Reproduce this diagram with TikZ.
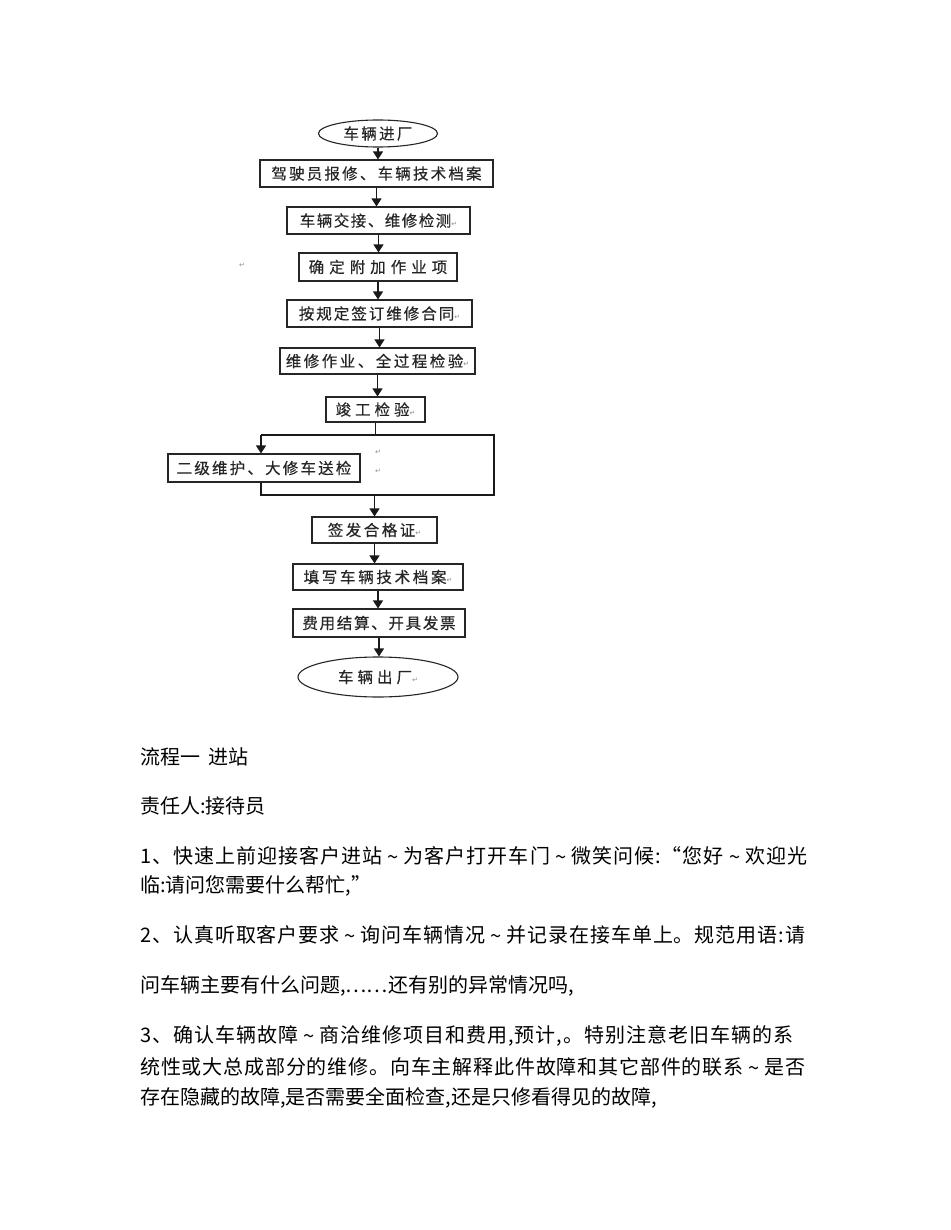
\documentclass[tikz,border=0pt]{standalone}
\usepackage{fontspec}
\setmainfont{Noto Sans CJK SC}
\newfontfamily\bxf[FakeBold=0.4]{Noto Sans CJK SC}
\newfontfamily\dv{DejaVu Sans}
\usetikzlibrary{arrows.meta,shapes.geometric}
\ExplSyntaxOn
\NewDocumentCommand\spc{mm}{\tl_map_inline:nn{#2}{##1\hspace{#1}}\unskip}
\NewDocumentCommand\jl{mm}{\makebox[#1][s]{\tl_map_inline:nn{#2}{##1\hfil}\unskip}}
\ExplSyntaxOff
\newcommand\pmk{{\dv\fontsize{7}{7}\selectfont\color{black!45}↵}}
\newcommand\tld{\hspace{4pt}\raisebox{-1pt}{\symbol{"7E}}\hspace{4pt}}
\begin{document}
\begin{tikzpicture}[x=1pt,y=-1pt,
  box/.style={draw=black!85, line width=1.1pt, fill=white, inner sep=0pt, font=\bxf\fontsize{15.5}{17}\selectfont, text=black!85},
  oval/.style={ellipse, draw=black!85, line width=1.1pt, fill=white, inner sep=0pt, font=\bxf\fontsize{15.5}{17}\selectfont, text=black!85},
  arr/.style={-{Triangle[length=8pt,width=10pt]}, line width=1.2pt, draw=black!90, fill=black!90},
  ln/.style={line width=1.2pt, draw=black!90, line join=miter},
  body/.style={anchor=base west, inner sep=0pt, font=\fontsize{20}{24}\selectfont},
  stray/.style={inner sep=0pt}]
\useasboundingbox (0,0) rectangle (950,1230);
\fill[white] (0,0) rectangle (950,1230);

% flowchart nodes
\node[oval, minimum width=119pt, minimum height=27pt] (e1) at (378,133.5) {\spc{2.3pt}{车辆进厂}};
\node[box, minimum width=233pt, minimum height=27pt] (b2) at (376.5,173.5) {\spc{2.2pt}{驾驶员报修、车辆技术档案}};
\node[box, minimum width=183pt, minimum height=27pt] (b3) at (378.5,220.5) {\spc{1.5pt}{车辆交接、维修检测}\pmk};
\node[box, minimum width=158pt, minimum height=28pt] (b4) at (378,267) {\spc{5pt}{确定附加作业项}};
\node[box, minimum width=185pt, minimum height=27pt] (b5) at (379.5,313.5) {\spc{2pt}{按规定签订维修合同}\pmk};
\node[box, minimum width=195pt, minimum height=26pt] (b6) at (377.5,361) {\spc{2.5pt}{维修作业、全过程检验}\pmk};
\node[box, minimum width=99pt, minimum height=25pt] (b7) at (375.5,409.5) {\spc{4pt}{竣工检验}\pmk};
\node[box, minimum width=192pt, minimum height=28pt] (bL) at (264,468) {\spc{2.2pt}{二级维护、大修车送检}};
\node[box, minimum width=125pt, minimum height=26pt] (b8) at (374.5,530) {\spc{2.5pt}{签发合格证}\pmk};
\node[box, minimum width=170pt, minimum height=26pt] (b9) at (378,577) {\spc{2.7pt}{填写车辆技术档案}\pmk};
\node[box, minimum width=172pt, minimum height=28pt] (b10) at (379,623) {\spc{1.7pt}{费用结算、开具发票}};
\node[oval, minimum width=160pt, minimum height=40pt] (e2) at (378,677) {\spc{4pt}{车辆出厂}\pmk};

% stray paragraph marks
\node[stray] (s1) at (242,265) {\pmk};
\node[stray] (s2) at (378,452) {\pmk};
\node[stray] (s3) at (378,471) {\pmk};

% loop corners
\coordinate (lt) at (261,435);
\coordinate (rt) at (494,435);
\coordinate (rb) at (494,495);
\coordinate (lb) at (261,495);

% connectors
\draw[arr] (e1.south) -- (e1.south |- b2.north);
\draw[arr] (b2.south) -- (b2.south |- b3.north);
\draw[arr] (b3.south) -- (b3.south |- b4.north);
\draw[arr] (b4.south) -- (b4.south |- b5.north);
\draw[arr] (b5.south) -- (b5.south |- b6.north);
\draw[arr] (b6.south) -- (b6.south |- b7.north);
\draw[ln] (b7.south) -- (b7.south |- lt);
\draw[ln] (lt) -- (rt) -- (rb) -- (lb) -- (lb |- bL.south);
\draw[arr] (lt) -- (lt |- bL.north);
\draw[arr] (b8.north |- lb) -- (b8.north);
\draw[arr] (b8.south) -- (b8.south |- b9.north);
\draw[arr] (b9.south) -- (b9.south |- b10.north);
\draw[arr] (b10.south) -- (b10.south |- e2.north);

% body text
\node[body] (t1) at (140,764.5) {流程一\hspace{8pt}进站};
\node[body] (t2) at (140,813.5) {责任人:接待员};
\node[body] (t3) at (140,863.5) {\jl{667pt}{1、快速上前迎接客户进站\tld 为客户打开车门\tld 微笑问候:“您好\tld 欢迎光}};
\node[body] (t4) at (140,892.5) {临:请问您需要什么帮忙,”};
\node[body] (t5) at (140,942.5) {\jl{665pt}{2、认真听取客户要求\tld 询问车辆情况\tld 并记录在接车单上。规范用语:请}};
\node[body] (t6) at (140,992.5) {问车辆主要有什么问题,……还有别的异常情况吗,};
\node[body] (t7) at (140,1042.5) {\jl{653pt}{3、确认车辆故障\tld 商洽维修项目和费用,预计,。特别注意老旧车辆的系}};
\node[body] (t8) at (140,1074.5) {\jl{665pt}{统性或大总成部分的维修。向车主解释此件故障和其它部件的联系\tld 是否}};
\node[body] (t9) at (140,1104.5) {存在隐藏的故障,是否需要全面检查,还是只修看得见的故障,};
\end{tikzpicture}
\end{document}
